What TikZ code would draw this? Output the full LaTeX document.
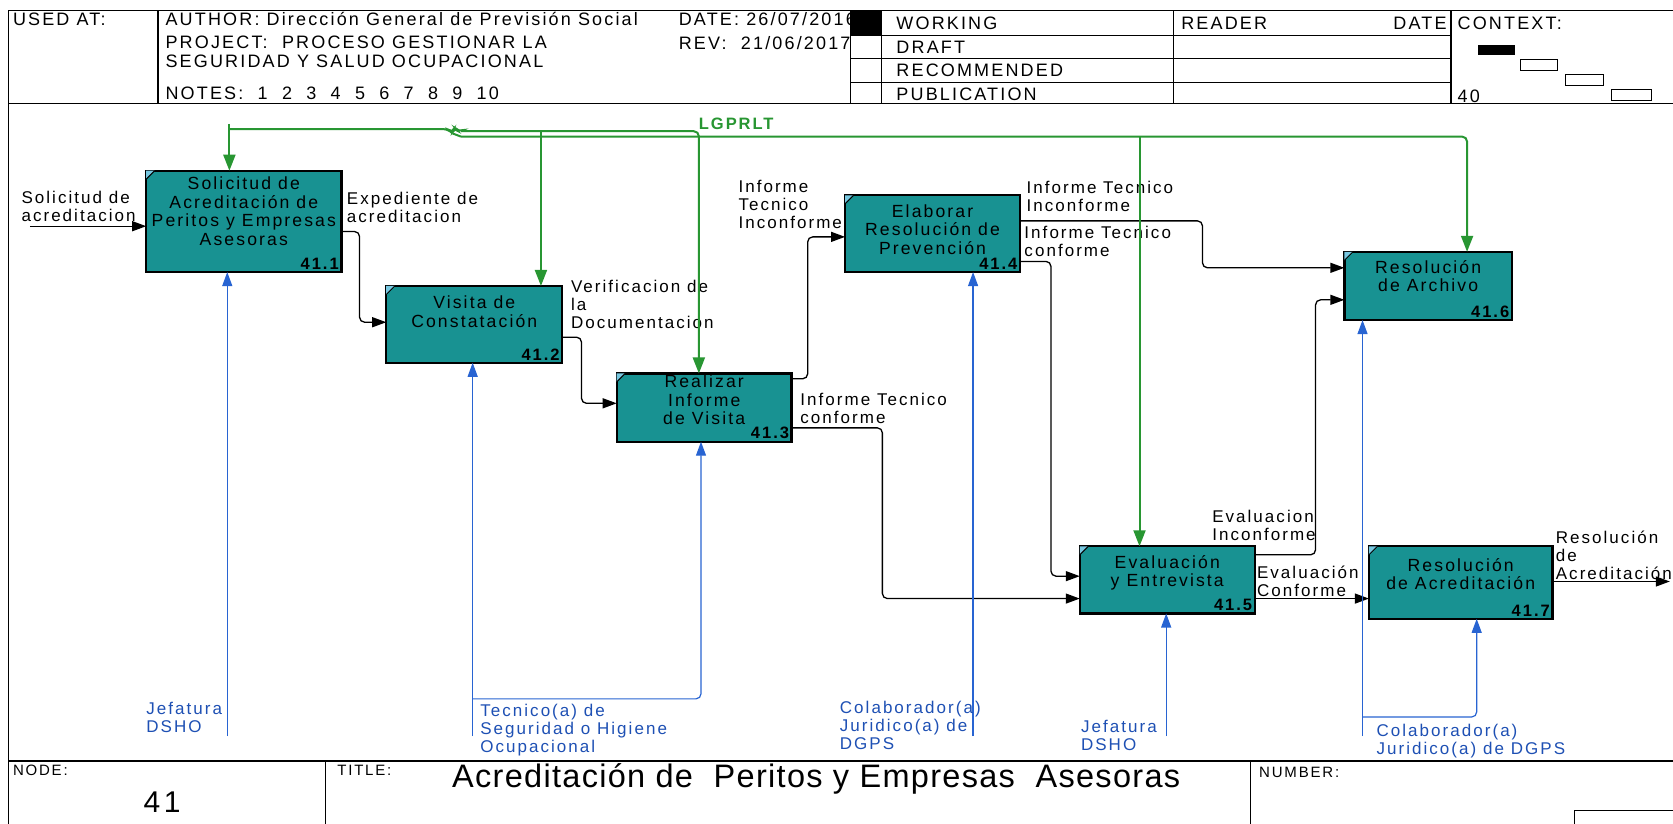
\documentclass[tikz,border=0pt]{standalone}
\usepackage{fontspec}
\setmainfont{Liberation Sans}[LetterSpace=12]
\newfontfamily\titlefont{Liberation Sans}[LetterSpace=4]
\usetikzlibrary{arrows.meta}
\definecolor{boxfill}{RGB}{24,146,146}
\definecolor{gline}{RGB}{40,150,50}
\definecolor{bline}{RGB}{40,100,210}
\definecolor{btext}{RGB}{30,80,180}
\definecolor{cornerfill}{RGB}{120,200,225}

\newcommand\idefbox[8]{%
  \node[box, minimum width={(#4-#2)*1.067pt}, minimum height={(#5-#3)*1.067pt}] (#1) at ({(#2+#4)/2},{(#3+#5)/2}) {};
  \fill[cornerfill] (#1.north west) -- ++(0,8) -- ++(8,-8) -- cycle;
  \draw[line width=1pt] (#1.north west) ++(0,8) -- ++(8,-8);
  \node[boxtext] (#1t) at ({(#2+#4)/2},#6) {#7};
  \node[boxnum, anchor=south east] (#1n) at (#1.south east) {#8};
}

\begin{document}
\begin{tikzpicture}[x=1.067pt,y=-1.067pt,
  frame/.style={line width=1.6pt},
  thinframe/.style={line width=1.1pt},
  box/.style={draw=black, line width=2.4pt, fill=boxfill, inner sep=0pt, outer sep=0pt},
  boxtext/.style={align=center, inner sep=0pt, font=\fontsize{17.6}{18.5}\selectfont},
  boxnum/.style={inner sep=2.5pt, font=\bfseries\fontsize{16.5}{16.5}\selectfont},
  lbl/.style={align=left, anchor=west, inner sep=0pt, font=\fontsize{17}{18}\selectfont},
  mlbl/.style={lbl, text=btext},
  hdr/.style={anchor=west, inner sep=0pt, font=\fontsize{18}{19}\selectfont},
  smallhdr/.style={anchor=west, inner sep=0pt, font=\fontsize{15}{16}\selectfont},
  flow/.style={draw=black, line width=1.3pt, rounded corners=5pt, -{Triangle[length=14pt,width=10pt]}},
  ctrl/.style={draw=gline, line width=2pt, rounded corners=5pt},
  ctrla/.style={ctrl, -{Triangle[length=16pt,width=12pt]}},
  mech/.style={draw=bline, line width=1.2pt, rounded corners=5pt},
  mecha/.style={mech, -{Triangle[length=14pt,width=10pt]}}]
\useasboundingbox (0,0) rectangle (1568,772);
\fill[white] (0,0) rectangle (1568,772);

% ---------- header texts ----------
\node[hdr] (usedat) at (12,18) {USED AT:};
\node[hdr] (author) at (155,18) {AUTHOR: Dirección General de Previsión Social};
\node[hdr] (project) at (155,40) {PROJECT:\ \ PROCESO GESTIONAR LA};
\node[hdr] (project2) at (155,57) {SEGURIDAD Y SALUD OCUPACIONAL};
\node[hdr] (notes) at (155,87) {NOTES:\ \ 1\ \ 2\ \ 3\ \ 4\ \ 5\ \ 6\ \ 7\ \ 8\ \ 9\ \ 10};
\node[hdr] (date) at (636,18) {DATE: 26/07/2016};
\node[hdr] (rev) at (636,40) {REV:\ \ 21/06/2017};
\node[hdr] (working) at (840,22) {WORKING};
\node[hdr] (draft) at (840,44) {DRAFT};
\node[hdr] (recom) at (840,66) {RECOMMENDED};
\node[hdr] (publ) at (840,88) {PUBLICATION};
\node[hdr] (reader) at (1107,22) {READER};
\node[hdr, anchor=east] (rdate) at (1356,22) {DATE};
\node[hdr] (context) at (1366,22) {CONTEXT:};
\node[hdr] (ctxnum) at (1366,90) {40};
\fill (1385,42) rectangle (1420,52);
\draw[thinframe] (1425,56) rectangle (1460,66);
\draw[thinframe] (1467,70) rectangle (1503,80);
\draw[thinframe] (1510,84) rectangle (1548,94);

% ---------- frame ----------
\draw[frame] (1568,10) -- (8,10) -- (8,772);
\draw[frame] (8,97) -- (1568,97);
\draw[frame] (148,10) -- (148,97);
\draw[frame] (797,10) -- (797,97);
\draw[thinframe] (826,10) -- (826,97);
\draw[thinframe] (1100,10) -- (1100,97);
\draw[frame] (1360,10) -- (1360,97);
\foreach \y in {33,55,77} \draw[thinframe] (797,\y) -- (1360,\y);
\fill (797,10) rectangle (826,33);
\draw[frame] (8,713) -- (1568,713);
\draw[frame] (305,713) -- (305,772);
\draw[frame] (1172,713) -- (1172,772);
\draw[thinframe] (1476,772) -- (1476,760) -- (1568,760);

% ---------- footer texts ----------
\node[smallhdr] (nodelbl) at (12,722) {NODE:};
\node[inner sep=0pt, font=\fontsize{30}{31}\selectfont] (nodenum) at (152,752) {41};
\node[smallhdr] (titlelbl) at (316,722) {TITLE:};
\node[inner sep=0pt, font=\titlefont\fontsize{32.5}{33}\selectfont] (title) at (765,730) {Acreditación de\ \ Peritos y Empresas\ \ Asesoras};
\node[smallhdr] (numberlbl) at (1180,724) {NUMBER:};

% ---------- activity boxes ----------
\idefbox{b1}{137}{160}{320}{255}{198}{Solicitud de\\Acreditación de\\Peritos y Empresas\\Asesoras}{41.1}
\idefbox{b2}{362}{268}{527}{340}{292}{Visita de\\Constatación}{41.2}
\idefbox{b3}{578}{350}{742}{414}{375}{Realizar\\Informe\\de Visita}{41.3}
\idefbox{b4}{792}{183}{956}{255}{215}{Elaborar\\Resolución de\\Prevención}{41.4}
\idefbox{b5}{1012}{512}{1176}{575}{537}{Evaluación\\y Entrevista}{41.5}
\idefbox{b6}{1260}{236}{1417}{300}{259}{Resolución\\de Archivo}{41.6}
\idefbox{b7}{1283}{512}{1455}{580}{538}{Resolución\\de Acreditación}{41.7}

% ---------- inputs / outputs ----------
\coordinate (i1) at (28,212);
\draw[flow] (i1) -- (b1.west |- i1);
\draw[flow] (b1.east |- 0,217) -- (337,217) -- (337,302) -- (b2.west |- 0,302);
\draw[flow] (b2.east |- 0,316) -- (545,316) -- (545,378) -- (b3.west |- 0,378);
\draw[flow] (b3.east |- 0,355) -- (757,355) -- (757,222) -- (b4.west |- 0,222);
\draw[flow] (b3.east |- 0,401) -- (827,401) -- (827,561) -- (b5.west |- 0,561);
\draw[flow] (b4.east |- 0,207) -- (1127,207) -- (1127,251) -- (b6.west |- 0,251);
\draw[flow] (b4.east |- 0,245) -- (985,245) -- (985,540) -- (b5.west |- 0,540);
\draw[flow] (b5.east |- 0,520) -- (1233,520) -- (1233,281) -- (b6.west |- 0,281);
\draw[flow] (b5.east |- 0,561) -- (b7.west |- 0,561);
\coordinate (o7) at (1565,545);
\draw[flow] (b7.east |- o7) -- (o7);

% ---------- arrow labels ----------
\node[lbl] (l1) at (20,193) {Solicitud de\\acreditacion};
\node[lbl] (l2) at (325,194) {Expediente de\\acreditacion};
\node[lbl] (l3) at (535,285) {Verificacion de\\la\\Documentacion};
\node[lbl] (l4) at (692,192) {Informe\\Tecnico\\Inconforme};
\node[lbl] (l5) at (750,383) {Informe Tecnico\\conforme};
\node[lbl] (l6) at (962,184) {Informe Tecnico\\Inconforme};
\node[lbl] (l7) at (960,226) {Informe Tecnico\\conforme};
\node[lbl] (l8) at (1136,492) {Evaluacion\\Inconforme};
\node[lbl] (l9) at (1178,545) {Evaluación\\Conforme};
\node[lbl] (l10) at (1458,520) {Resolución\\de\\Acreditación};

% ---------- controls ----------
\coordinate (c1) at (215,121);
\coordinate (gj) at (420,121);
\coordinate (gu) at (432,123);
\coordinate (gl) at (432,128);
\coordinate (c2) at (507,123);
\coordinate (c3) at (655,123);
\coordinate (c5) at (1068,128);
\coordinate (c6) at (1375,128);
\draw[ctrl] (c1) -- (gj) -- ++(4,4) -- ++(2,-6) -- ++(4,5) -- (gu);
\draw[ctrl] (gj) ++(4,4) -- (gl);
\draw[ctrla] (gu) -- (c3) -- (c3 |- b3.north);
\draw[ctrla] (gl) -- (c6) -- (c6 |- b6.north);
\draw[ctrla] (c1 |- 0,116) -- (c1 |- b1.north);
\draw[ctrla] (c2) -- (c2 |- b2.north);
\draw[ctrla] (c5) -- (c5 |- b5.north);
\node[inner sep=0pt, text=gline, font=\bfseries\fontsize{16.5}{16.5}\selectfont] (lgp) at (690,116) {LGPRLT};

% ---------- mechanisms ----------
\coordinate (m1) at (213,690);
\coordinate (m2) at (443,690);
\coordinate (m3) at (657,655);
\coordinate (m4) at (912,690);
\coordinate (m5) at (1093,690);
\coordinate (m6) at (1277,690);
\coordinate (m7) at (1384,672);
\draw[mecha] (m1) -- (m1 |- b1.south);
\draw[mecha] (m2) -- (m2 |- b2.south);
\draw[mecha] (m2 |- m3) -- (m3) -- (m3 |- b3.south);
\draw[mecha] (m4) -- (m4 |- b4.south);
\draw[mecha] (m5) -- (m5 |- b5.south);
\draw[mecha] (m6) -- (m6 |- b6.south);
\draw[mecha] (m6 |- m7) -- (m7) -- (m7 |- b7.south);
\node[mlbl] (ml1) at (137,672) {Jefatura\\DSHO};
\node[mlbl] (ml2) at (450,684) {Tecnico(a) de\\Seguridad o Higiene\\Ocupacional};
\node[mlbl] (ml4) at (787,680) {Colaborador(a)\\Juridico(a) de\\DGPS};
\node[mlbl] (ml5) at (1013,689) {Jefatura\\DSHO};
\node[mlbl] (ml6) at (1290,695) {Colaborador(a)\\Juridico(a) de DGPS};
\end{tikzpicture}
\end{document}
